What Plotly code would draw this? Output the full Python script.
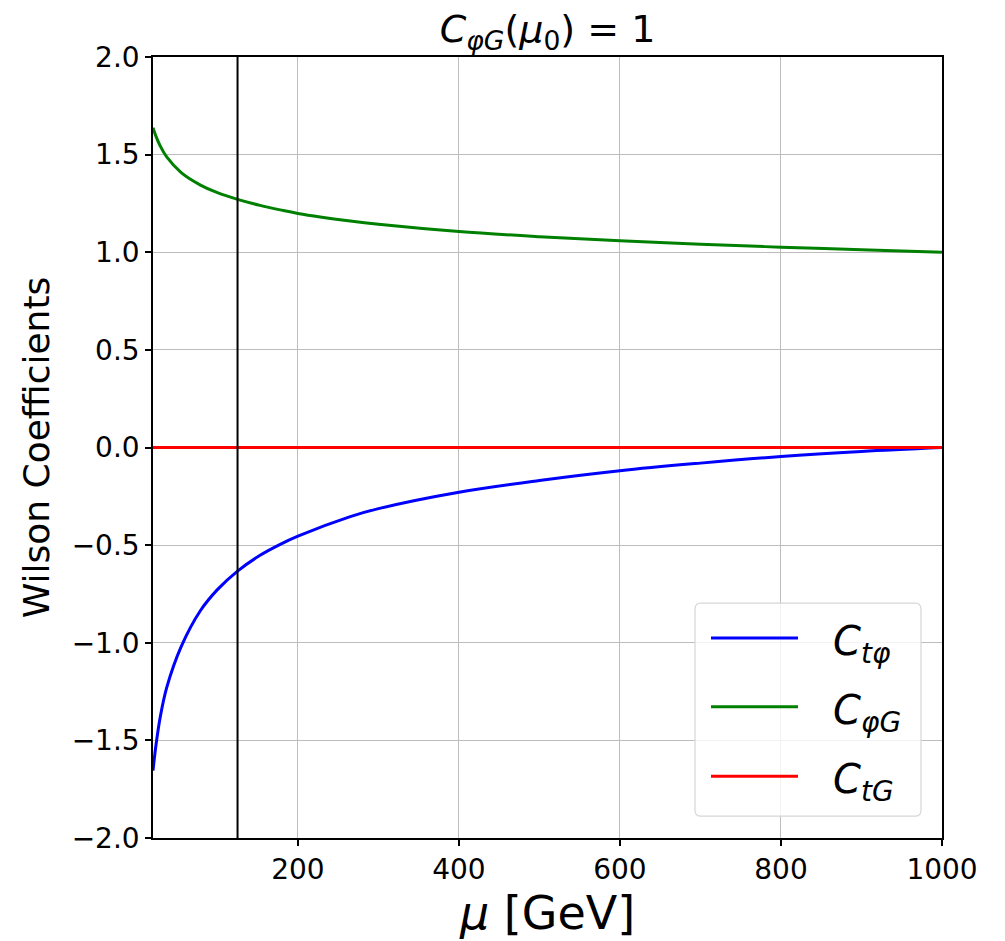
import plotly.graph_objects as go

# ---- data ----
mu = [20, 23.5, 29, 37, 55, 79, 100, 125, 153, 178, 200, 265, 300,
      400, 500, 600, 700, 800, 900, 1000]
c_tphi = [-1.655, -1.53, -1.38, -1.23, -1.02, -0.835, -0.728, -0.633, -0.552,
          -0.496, -0.454, -0.354, -0.313, -0.229, -0.169, -0.119, -0.080,
          -0.046, -0.020, 0.0]
c_phiG = [1.638, 1.596, 1.544, 1.488, 1.408, 1.344, 1.305, 1.271, 1.240,
          1.217, 1.199, 1.160, 1.143, 1.106, 1.080, 1.059, 1.041, 1.026,
          1.013, 1.0]
c_tG = [0.0, 0.0, 0.0, 0.0, 0.0, 0.0, 0.0, 0.0, 0.0, 0.0, 0.0, 0.0, 0.0,
        0.0, 0.0, 0.0, 0.0, 0.0, 0.0, 0.0]
mu_higgs = 125
x_ticks = [200, 400, 600, 800, 1000]

series = [
    ("<i>C</i><sub><i>tφ</i></sub>", c_tphi, "#0000ff"),
    ("<i>C</i><sub><i>φG</i></sub>", c_phiG, "#008000"),
    ("<i>C</i><sub><i>tG</i></sub>", c_tG, "#ff0000"),
]

FONT = "DejaVu Sans"
W, H = 1005, 941
L, R, T, B = 153, 63, 57, 99

fig = go.Figure()
for name, vals, col in series:
    fig.add_trace(go.Scatter(x=mu, y=vals, mode="lines", name=name,
                             line=dict(color=col, width=3, shape="spline", smoothing=1.0),
                             showlegend=False))

fig.add_vline(x=mu_higgs, line=dict(color="black", width=2), layer="above")

# ---- manual legend (matplotlib style) ----
pw, ph = W - L - R, H - T - B
def px(x):
    return (x - L) / pw
def py(y):
    return (H - B - y) / ph

x0, x1, y0, y1, r = 695, 921, 606, 820, 6
rx, ry = r / pw, r / ph
X0, X1, Y0, Y1 = px(x0), px(x1), py(y1), py(y0)
path = (f"M {X0+rx},{Y0} L {X1-rx},{Y0} Q {X1},{Y0} {X1},{Y0+ry} "
        f"L {X1},{Y1-ry} Q {X1},{Y1} {X1-rx},{Y1} L {X0+rx},{Y1} "
        f"Q {X0},{Y1} {X0},{Y1-ry} L {X0},{Y0+ry} Q {X0},{Y0} {X0+rx},{Y0} Z")
fig.add_shape(type="path", path=path, xref="paper", yref="paper",
              fillcolor="rgba(255,255,255,0.8)", line=dict(color="#d6d6d6", width=1.2),
              layer="above")
rows = [641, 710, 780]
for (name, vals, col), yy in zip(series, rows):
    fig.add_shape(type="line", xref="paper", yref="paper",
                  x0=px(711), x1=px(798), y0=py(yy), y1=py(yy),
                  line=dict(color=col, width=3), layer="above")
    fig.add_annotation(text=name, xref="paper", yref="paper", x=px(831), y=py(yy + 6),
                       xanchor="left", yanchor="middle", showarrow=False,
                       font=dict(family=FONT, size=40, color="black"))

axis_common = dict(
    showline=True, linecolor="black", linewidth=1.5, mirror=True,
    ticks="outside", ticklen=6, tickwidth=1.5, tickcolor="black",
    showgrid=True, gridcolor="#bdbdbd", gridwidth=1, zeroline=False,
    tickfont=dict(family=FONT, size=28, color="black"),
)

fig.update_layout(
    width=W, height=H,
    margin=dict(l=L, r=R, t=T, b=B),
    plot_bgcolor="white", paper_bgcolor="white",
    font=dict(family=FONT, color="black"),
    title=dict(text="<i>C</i><sub><i>φG</i></sub>(<i>μ</i><sub>0</sub>) = 1",
               x=(L + pw / 2) / W, xanchor="center", xref="container",
               y=1 - 29 / H, yanchor="middle", yref="container",
               font=dict(family=FONT, size=38, color="black")),
    xaxis=dict(range=[20, 1000], tickvals=x_ticks, **axis_common,
               title=dict(text="<i>μ</i> [GeV]", standoff=10,
                          font=dict(family=FONT, size=46, color="black"))),
    yaxis=dict(range=[-2, 2], dtick=0.5, tickformat=".1f", **axis_common,
               title=dict(text="Wilson Coefficients", standoff=11,
                          font=dict(family=FONT, size=36, color="black"))),
)

fig.write_html("out.html")
